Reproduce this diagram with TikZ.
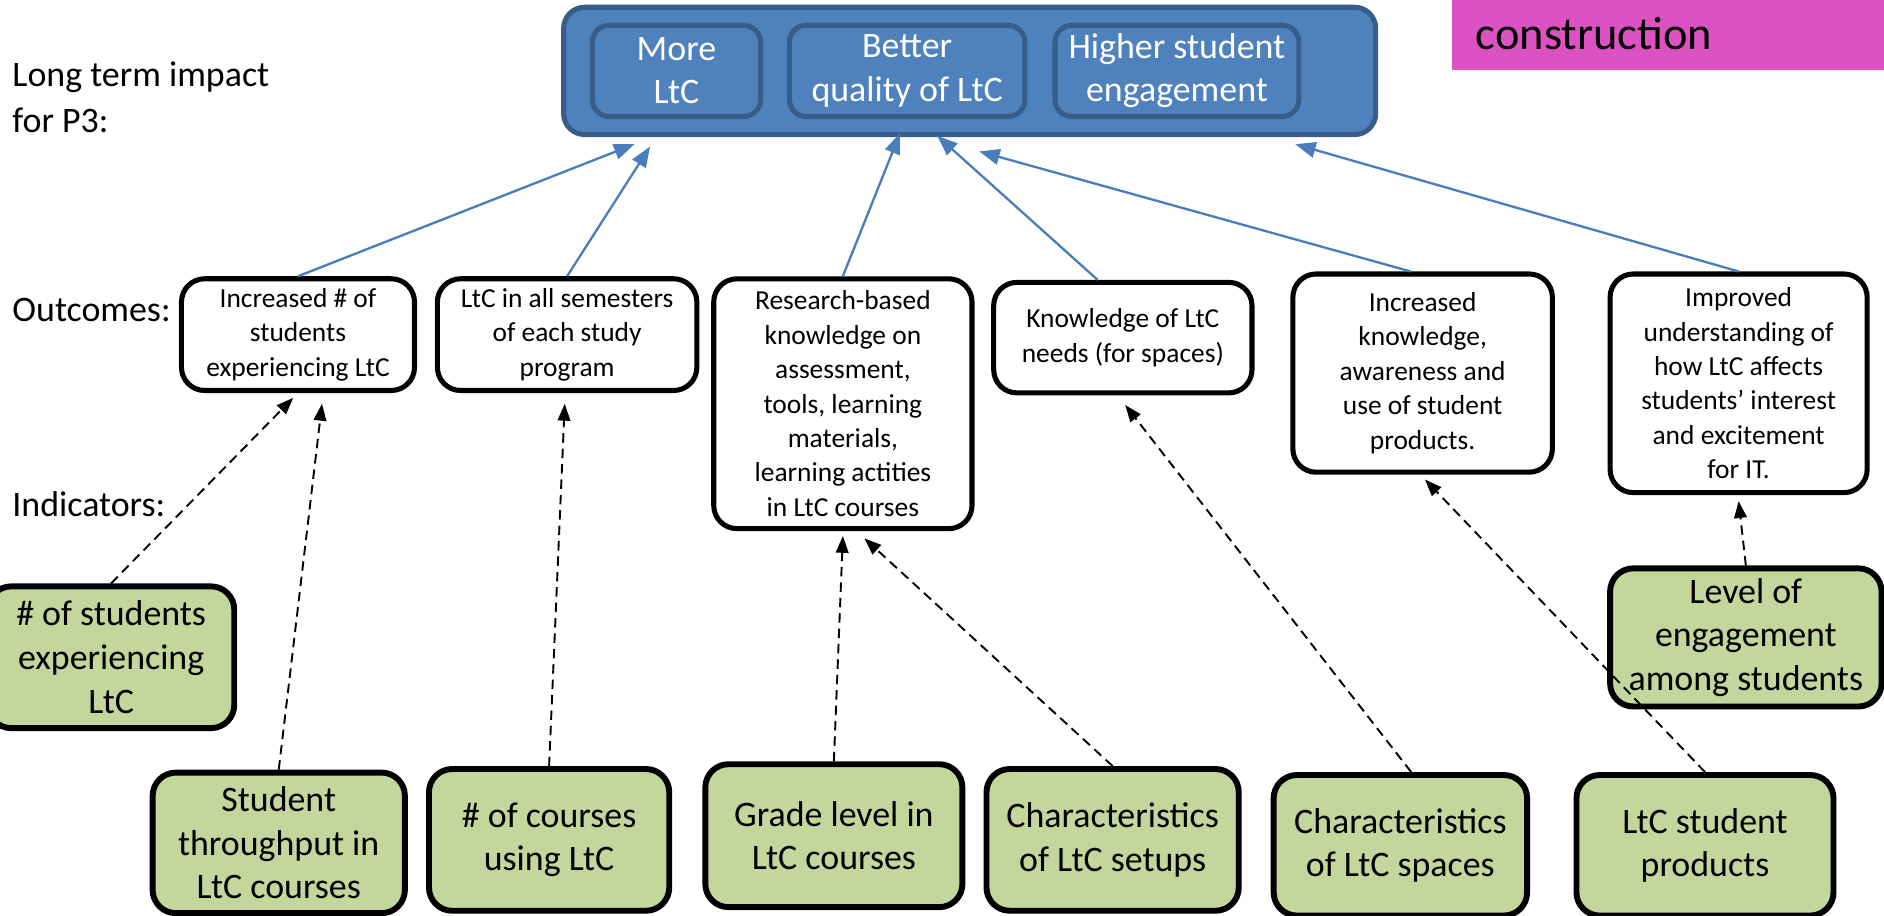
\documentclass[tikz,border=0pt]{standalone}
\usepackage{fontspec}
\setmainfont{Carlito}
\usetikzlibrary{arrows.meta,calc}
\definecolor{impactfill}{HTML}{4F81BD}
\definecolor{impactdraw}{HTML}{385D8A}
\definecolor{indfill}{HTML}{C3D69B}
\definecolor{notefill}{HTML}{DD52C2}
\definecolor{linkblue}{HTML}{4A7EBB}
\begin{document}
\begin{tikzpicture}[x=0.02cm,y=-0.02cm,outer/.style={draw=impactdraw,fill=impactfill,line width=2.4pt,rounded corners=10pt,minimum width=13.52cm,minimum height=2.12cm},impact/.style={draw=impactdraw,fill=impactfill,line width=2.4pt,rounded corners=8pt,align=center,text=white,minimum height=1.52cm,inner sep=2pt,font=\fontsize{17}{20.5}\selectfont},outcome/.style={draw=black,fill=white,line width=2.4pt,rounded corners=11pt,align=center,inner sep=2pt,font=\fontsize{13}{16.3}\selectfont},indicator/.style={draw=black,fill=indfill,line width=2.8pt,rounded corners=11pt,align=center,inner sep=2pt,font=\fontsize{17}{20.7}\selectfont},rowlabel/.style={anchor=west,align=left,inner sep=0pt,font=\fontsize{17}{21.5}\selectfont},uparrow/.style={-{Triangle[length=3.4mm,width=2.6mm]},line width=1.1pt,draw=linkblue},dasharrow/.style={-{Triangle[length=2.8mm,width=2.1mm]},line width=0.9pt,dash pattern=on 4.5pt off 2.8pt}]
\useasboundingbox (0,0) rectangle (1568,762);
\node[fill=notefill,anchor=north west,minimum width=7.4cm,minimum height=1.2cm,text width=6.6cm,inner xsep=0.28cm,align=left,font=\fontsize{22}{26}\selectfont] (note) at (1208,-2) {construction};
\node[rowlabel] (lterm) at (10,81) {Long term impact\\for P3:};
\node[rowlabel] (lout) at (10,258) {Outcomes:};
\node[rowlabel] (lind) at (10,420) {Indicators:};
\node[outer] (top) at (807,59) {};
\node[impact,minimum width=2.8cm] (more) at (563,59) {More\\LtC};
\node[impact,minimum width=3.92cm] (better) at (755,59) {Better\\quality of LtC};
\node[impact,minimum width=4.06cm] (higher) at (979.5,59) {Higher student\\engagement};
\node[outcome,minimum width=3.88cm,minimum height=1.86cm] (o1) at (248,278.5) {Increased \# of\\students\\experiencing LtC};
\node[outcome,minimum width=4.32cm,minimum height=1.86cm] (o2) at (472,278.5) {LtC in all semesters\\of each study\\program};
\node[outcome,minimum width=4.3cm,minimum height=4.16cm] (o3) at (701.5,336) {Research-based\\knowledge on\\assessment,\\tools, learning\\materials,\\learning actities\\in LtC courses};
\node[outcome,minimum width=4.3cm,minimum height=1.84cm] (o4) at (934.5,281) {Knowledge of LtC\\needs (for spaces)};
\node[outcome,minimum width=4.32cm,minimum height=3.3cm] (o5) at (1184,310.5) {Increased\\knowledge,\\awareness and\\use of student\\products.};
\node[outcome,minimum width=4.28cm,minimum height=3.64cm] (o6) at (1447,319) {Improved\\understanding of\\how LtC affects\\students’ interest\\and excitement\\for IT.};
\node[indicator,minimum width=4.1cm,minimum height=2.36cm] (i1) at (92.5,547) {\# of students\\experiencing\\LtC};
\node[indicator,minimum width=4.2cm,minimum height=2.34cm] (i2) at (232,701.5) {Student\\throughput in\\LtC courses};
\node[indicator,minimum width=4.0cm,minimum height=2.36cm] (i3) at (457,699) {\# of courses\\using LtC};
\node[indicator,minimum width=4.28cm,minimum height=2.38cm] (i4) at (694,695.5) {Grade level in\\LtC courses};
\node[indicator,minimum width=4.2cm,minimum height=2.36cm] (i5) at (926,699) {Characteristics\\of LtC setups};
\node[indicator,minimum width=4.22cm,minimum height=2.34cm] (i6) at (1165.5,703.5) {Characteristics\\of LtC spaces};
\node[indicator,minimum width=4.28cm,minimum height=2.34cm] (i7) at (1419,703.5) {LtC student\\products};
\node[indicator,minimum width=4.52cm,minimum height=2.3cm] (i8) at (1453,530.5) {Level of\\engagement\\among students};
\coordinate (t1) at (528,120);
\coordinate (t2) at (541,122);
\coordinate (t3) at (749,111);
\coordinate (t4) at (780,113);
\coordinate (t5) at (815,126);
\coordinate (t6) at (1078,120);
\draw[uparrow] (o1.north) -- (t1);
\draw[uparrow] (o2.north) -- (t2);
\draw[uparrow] (o3.north) -- (t3);
\draw[uparrow] ($(o4.north)+(-21,0)$) -- (t4);
\draw[uparrow] ($(o5.north)+(-10,0)$) -- (t5);
\draw[uparrow] (o6.north) -- (t6);
\draw[dasharrow] (i1.north) -- ($(o1.south)+(-4,4)$);
\draw[dasharrow] (i2.north) -- ($(o1.south)+(20,9)$);
\draw[dasharrow] (i3.north) -- ($(o2.south)+(-2,9)$);
\draw[dasharrow] (i4.north) -- ($(o3.south)+(0,4)$);
\draw[dasharrow] (i5.north) -- ($(o3.south)+(18,6)$);
\draw[dasharrow] ($(i6.north)+(9,0)$) -- ($(o4.south)+(2,8)$);
\draw[dasharrow] (i7.north) -- ($(o5.south)+(2,4)$);
\draw[dasharrow] (i8.north) -- ($(o6.south)+(0,5)$);
\end{tikzpicture}
\end{document}
